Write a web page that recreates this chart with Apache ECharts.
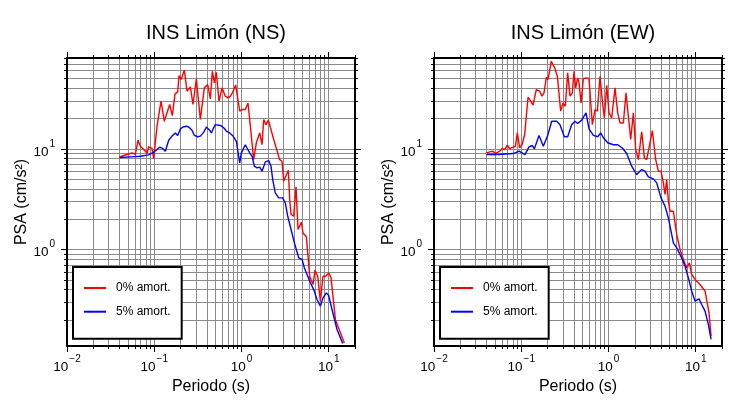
<!DOCTYPE html>
<html>
<head>
<meta charset="utf-8">
<script src="https://cdn.jsdelivr.net/npm/echarts@6/dist/echarts.min.js"></script>
<style>
  html, body { margin: 0; background: #fff; }
  #chart { width: 730px; height: 400px; }
</style>
</head>
<body>
<div id="chart"></div>
<script>
// periodo (s) y PSA (cm/s2)
const nsT0 = [0.040, 0.0466, 0.0556, 0.0607, 0.0652, 0.0693, 0.0791, 0.0826, 0.0863, 0.0943, 0.0985, 0.1076, 0.1196, 0.1305, 0.1503, 0.1612, 0.173, 0.1856, 0.1922, 0.2027, 0.2213, 0.2375, 0.2594, 0.278, 0.3039, 0.3376, 0.3752, 0.41, 0.4395, 0.4634, 0.4886, 0.515, 0.5525, 0.598, 0.653, 0.701, 0.7455, 0.7926, 0.858, 0.9537, 1.014, 1.107, 1.188, 1.38, 1.48, 1.617, 1.72, 1.797, 1.911, 2.032, 2.34, 2.74, 2.915, 3.047, 3.212, 3.445, 3.568, 3.696, 3.966, 4.218, 4.446, 4.858, 5.076, 5.541, 6.05, 6.607, 6.965, 7.475, 8.02, 8.6, 9.23, 10.0, 10.63, 11.92, 13.6, 15.1]
const nsPsa0 = [8.3, 8.7, 9.1, 8.8, 12.2, 10.6, 9.5, 9.0, 10.5, 10.1, 8.0, 16.8, 29.8, 18.8, 27.6, 21.4, 35.2, 36.8, 53.5, 48.8, 60.5, 37.4, 41.3, 27.6, 49.6, 19.6, 40.4, 43.6, 31.4, 59.1, 45.3, 57.8, 29.8, 40.4, 33.4, 32.1, 33.4, 36.5, 43.2, 23.7, 24.6, 24.6, 28.6, 7.83, 11.5, 14.4, 11.0, 19.6, 17.4, 19.3, 12.4, 7.83, 7.54, 4.77, 4.67, 6.14, 3.14, 2.23, 2.14, 4.19, 1.58, 1.87, 1.46, 1.34, 0.543, 0.449, 0.623, 0.543, 0.307, 0.543, 0.543, 0.586, 0.523, 0.202, 0.149, 0.118]

const nsT5 = [0.040, 0.0532, 0.0693, 0.0863, 0.0985, 0.1154, 0.1249, 0.134, 0.1464, 0.1599, 0.1745, 0.1856, 0.1992, 0.2137, 0.2333, 0.248, 0.2709, 0.2882, 0.3147, 0.3376, 0.3687, 0.3956, 0.432, 0.4515, 0.48, 0.5017, 0.5724, 0.6252, 0.6707, 0.732, 0.80, 0.8733, 0.9537, 0.9966, 1.107, 1.157, 1.242, 1.32, 1.404, 1.507, 1.617, 1.72, 1.877, 2.05, 2.18, 2.28, 2.44, 2.67, 2.97, 3.18, 3.39, 3.70, 4.04, 4.53, 4.94, 5.26, 5.64, 6.16, 6.73, 7.34, 8.02, 8.6, 9.4, 10.0, 10.9, 12.45, 14.46]
const nsPsa5 = [8.2, 8.33, 8.46, 8.72, 9.27, 10.4, 10.1, 9.48, 12.2, 13.4, 14.4, 13.6, 15.8, 16.5, 16.8, 16.5, 15.3, 13.6, 13.2, 13.4, 14.6, 16.5, 15.3, 14.4, 16.2, 17.4, 17.1, 16.2, 15.0, 14.4, 13.4, 11.9, 7.26, 9.13, 11.0, 10.2, 9.13, 8.46, 6.73, 6.48, 6.6, 6.0, 7.43, 7.66, 6.73, 4.96, 3.66, 3.26, 3.26, 2.9, 2.14, 1.58, 1.165, 0.826, 0.796, 0.657, 0.565, 0.467, 0.40, 0.319, 0.274, 0.331, 0.371, 0.349, 0.2535, 0.1604, 0.1165]

const ewT0 = [0.040, 0.0435, 0.0475, 0.0505, 0.0566, 0.0607, 0.0646, 0.0693, 0.0737, 0.0804, 0.0856, 0.0902, 0.0959, 0.102, 0.1095, 0.1196, 0.1283, 0.1364, 0.1489, 0.1627, 0.173, 0.1824, 0.194, 0.2027, 0.2213, 0.2417, 0.2594, 0.2831, 0.3012, 0.3202, 0.3405, 0.3622, 0.3853, 0.4027, 0.4207, 0.4435, 0.4594, 0.4843, 0.515, 0.5625, 0.598, 0.653, 0.701, 0.7455, 0.80, 0.8507, 0.8967, 0.9537, 1.014, 1.088, 1.188, 1.275, 1.356, 1.48, 1.589, 1.689, 1.797, 1.928, 2.05, 2.199, 2.403, 2.578, 2.74, 3.184, 3.476, 3.729, 4.0, 4.256, 4.446, 4.647, 4.858, 5.076, 5.541, 6.05, 6.607, 7.215, 7.878, 8.453, 8.99, 9.817, 11.2, 12.79, 13.36, 14.21, 14.98]
const ewPsa0 = [9.13, 9.34, 9.48, 8.99, 9.48, 10.08, 9.85, 10.88, 10.08, 10.4, 10.6, 14.4, 10.23, 11.0, 13.9, 32.6, 29.8, 27.2, 38.9, 37.4, 33.4, 36.0, 51.5, 48.8, 74.3, 63.8, 52.7, 23.7, 28.6, 26.5, 56.9, 33.4, 36.0, 59.1, 40.4, 50.7, 45.3, 28.6, 49.9, 50.7, 49.9, 17.4, 24.6, 23.7, 52.7, 29.8, 20.3, 42.9, 22.8, 20.3, 40.4, 22.8, 18.1, 18.1, 36.0, 21.1, 12.4, 22.8, 9.85, 7.83, 14.8, 8.14, 7.83, 15.2, 7.83, 6.0, 6.0, 4.6, 3.52, 4.96, 3.02, 2.40, 2.40, 1.41, 1.0, 0.796, 0.657, 0.737, 0.565, 0.504, 0.449, 0.386, 0.371, 0.235, 0.138]

const ewT5 = [0.0402, 0.0546, 0.0812, 0.0943, 0.1104, 0.1227, 0.134, 0.1413, 0.1599, 0.1792, 0.2009, 0.2233, 0.2548, 0.278, 0.3119, 0.3405, 0.3785, 0.4135, 0.4435, 0.4929, 0.5525, 0.598, 0.6707, 0.752, 0.814, 0.8733, 0.979, 1.137, 1.275, 1.442, 1.617, 1.845, 2.105, 2.403, 2.623, 2.864, 3.268, 3.568, 4.0, 4.446, 4.858, 5.541, 6.05, 6.904, 7.542, 8.234, 8.99, 9.817, 10.9, 11.7, 12.79, 13.96, 14.98]
const ewPsa5 = [8.78, 8.78, 8.99, 9.48, 8.78, 10.47, 10.8, 10.0, 13.6, 10.6, 13.6, 18.8, 18.8, 17.4, 13.2, 13.2, 17.4, 18.8, 17.9, 19.3, 22.8, 15.8, 13.6, 13.2, 14.4, 12.9, 11.5, 11.0, 11.0, 10.2, 8.99, 6.73, 5.56, 6.23, 6.0, 5.27, 5.04, 4.6, 3.26, 2.70, 2.06, 1.165, 1.04, 0.826, 0.683, 0.523, 0.386, 0.307, 0.324, 0.284, 0.244, 0.18, 0.128]

const titles = ['INS Limón (NS)', 'INS Limón (EW)']
const seriesNames = ['0% amort.', '5% amort.']
const xRange = [0.01, 20]
const yRange = [0.11, 80]

const FONT = 'Liberation Sans, Arial, Helvetica, sans-serif'
const panelLeft = [67, 434]
const panelTop = 58
const panelSize = 288

// ejes en log10: ticks y grilla en 1..9 x 10^n
const xMin = Math.log10(xRange[0])
const xMax = Math.log10(xRange[1])
const yMin = Math.log10(yRange[0])
const yMax = Math.log10(yRange[1])

function logSteps(lo, hi) {
  const out = []
  for (let n = Math.floor(lo); n <= Math.ceil(hi); n++) {
    for (let k = 1; k <= 9; k++) {
      const v = n + Math.log10(k)
      if (v >= lo - 1e-9 && v <= hi + 1e-9) out.push(v)
    }
  }
  return out
}
function decades(lo, hi) {
  const out = []
  for (let n = Math.ceil(lo - 1e-9); n <= hi + 1e-9; n++) out.push(n)
  return out
}

const labelRich = {
  b: { fontSize: 13.5, fontFamily: FONT, color: '#000', lineHeight: 20, verticalAlign: 'bottom' },
  sup: { fontSize: 10, fontFamily: FONT, color: '#000', lineHeight: 10, verticalAlign: 'top', padding: [0, 0, 0, 1] }
}
function powLabel(v) {
  const e = Math.round(v)
  return '{b|10}{sup|' + (e < 0 ? '\u2212' + (-e) : e) + '}'
}

function axisPair(dim, g, pos, lo, hi) {
  const minor = logSteps(lo, hi)
  const major = decades(lo, hi)
  const labeled = pos === 'bottom' || pos === 'left'
  const base = { type: 'value', gridIndex: g, position: pos, min: lo, max: hi }
  const all = Object.assign({}, base, {
    axisLine: { show: true, onZero: false, lineStyle: { color: '#000', width: 2 } },
    axisTick: { show: true, customValues: minor, length: 3, lineStyle: { color: '#000', width: 1 } },
    axisLabel: { show: false },
    splitLine: { show: labeled, lineStyle: { color: '#8a8a8a', width: 1 } }
  })
  const big = Object.assign({}, base, {
    axisLine: { show: false, onZero: false },
    axisTick: { show: true, customValues: major, length: 6, lineStyle: { color: '#000', width: 1 } },
    axisLabel: {
      show: labeled,
      customValues: major,
      formatter: powLabel,
      rich: labelRich,
      margin: dim === 'x' ? 8 : 12
    },
    splitLine: { show: false }
  })
  if (labeled) {
    big.nameLocation = 'middle'
    big.nameTextStyle = { fontSize: 16, fontFamily: FONT, color: '#000' }
    if (dim === 'x') {
      big.name = 'Periodo (s)'
      big.nameGap = 29
    } else {
      big.name = 'PSA (cm/s\u00b2)'
      big.nameGap = 37
      big.nameRotate = 90
    }
  }
  return [all, big]
}

const grids = []
const xAxes = []
const yAxes = []
const titleOpts = []
const legends = []
const series = []

const panels = [
  [[nsT0, nsPsa0], [nsT5, nsPsa5]],
  [[ewT0, ewPsa0], [ewT5, ewPsa5]]
]
const colors = ['#ff0000', '#0000ff']

panels.forEach((pair, g) => {
  grids.push({ left: panelLeft[g], top: panelTop, width: panelSize, height: panelSize, show: false, outerBoundsMode: 'none' })
  xAxes.push(...axisPair('x', g, 'bottom', xMin, xMax), ...axisPair('x', g, 'top', xMin, xMax))
  yAxes.push(...axisPair('y', g, 'left', yMin, yMax), ...axisPair('y', g, 'right', yMin, yMax))

  titleOpts.push({
    text: titles[g],
    left: panelLeft[g] + panelSize / 2,
    textAlign: 'center',
    top: 18,
    textStyle: { fontSize: 20, fontWeight: 'normal', fontFamily: FONT, color: '#000' }
  })

  legends.push({
    data: seriesNames,
    orient: 'vertical',
    left: panelLeft[g] + 6,
    top: 267,
    icon: 'rect',
    itemWidth: 22,
    itemHeight: 2,
    itemGap: 11.7,
    padding: [15, 11, 21, 11],
    backgroundColor: '#fff',
    borderColor: '#000',
    borderWidth: 2,
    borderRadius: 0,
    selectedMode: false,
    textStyle: { fontSize: 12, fontFamily: FONT, color: '#000', padding: [0, 0, 0, 5] }
  })

  pair.forEach(([T, P], s) => {
    series.push({
      type: 'line',
      name: seriesNames[s],
      xAxisIndex: g * 4,
      yAxisIndex: g * 4,
      data: T.map((t, i) => [Math.log10(t), Math.log10(P[i])]),
      symbol: 'none',
      showSymbol: false,
      clip: true,
      lineStyle: { color: colors[s], width: 1.4 },
      itemStyle: { color: colors[s] },
      animation: false
    })
  })
})

const chart = echarts.init(document.getElementById('chart'), null, { renderer: 'canvas' })
chart.setOption({
  animation: false,
  backgroundColor: '#fff',
  title: titleOpts,
  legend: legends,
  grid: grids,
  xAxis: xAxes,
  yAxis: yAxes,
  series
})
</script>
</body>
</html>
